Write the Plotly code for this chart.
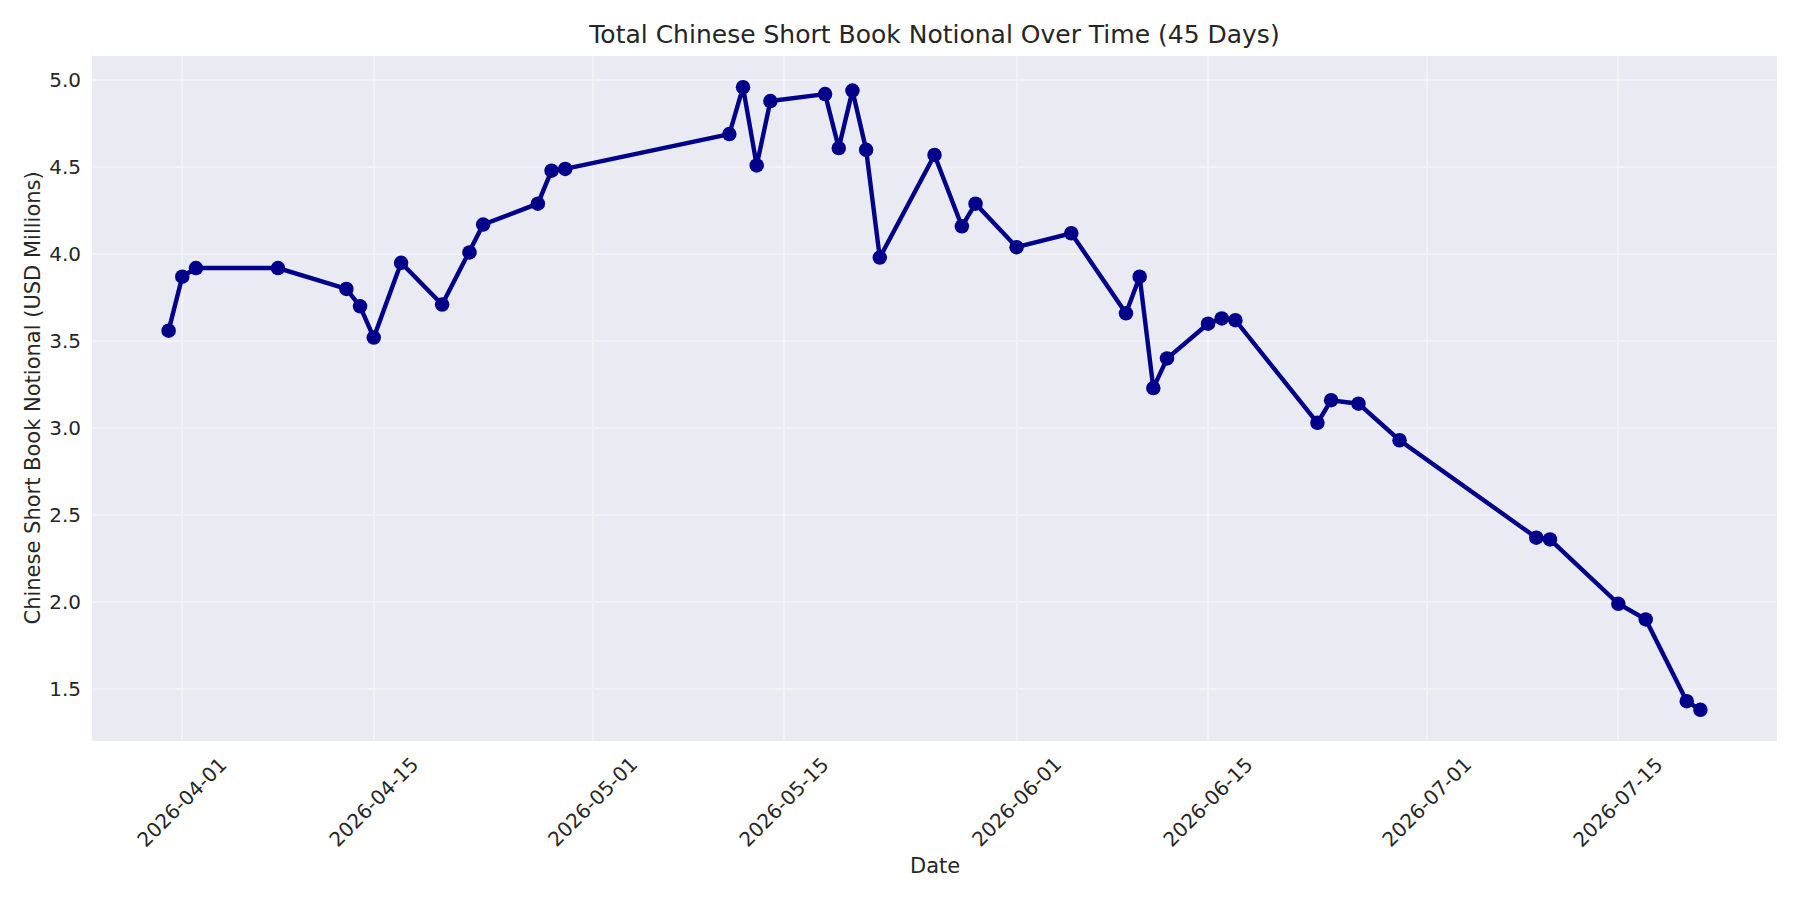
import pandas as pd
import plotly.graph_objects as go

# ---- data ----
dates = ["2026-03-31", "2026-04-01", "2026-04-02", "2026-04-08", "2026-04-13",
         "2026-04-14", "2026-04-15", "2026-04-17", "2026-04-20", "2026-04-22",
         "2026-04-23", "2026-04-27", "2026-04-28", "2026-04-29", "2026-05-11",
         "2026-05-12", "2026-05-13", "2026-05-14", "2026-05-18", "2026-05-19",
         "2026-05-20", "2026-05-21", "2026-05-22", "2026-05-26", "2026-05-28",
         "2026-05-29", "2026-06-01", "2026-06-05", "2026-06-09", "2026-06-10",
         "2026-06-11", "2026-06-12", "2026-06-15", "2026-06-16", "2026-06-17",
         "2026-06-23", "2026-06-24", "2026-06-26", "2026-06-29", "2026-07-09",
         "2026-07-10", "2026-07-15", "2026-07-17", "2026-07-20", "2026-07-21"]
notional = [3.56, 3.87, 3.92, 3.92, 3.80, 3.70, 3.52, 3.95, 3.71, 4.01,
            4.17, 4.29, 4.48, 4.49, 4.69, 4.96, 4.51, 4.88, 4.92, 4.61,
            4.94, 4.60, 3.98, 4.57, 4.16, 4.29, 4.04, 4.12, 3.66, 3.87,
            3.23, 3.40, 3.60, 3.63, 3.62, 3.03, 3.16, 3.14, 2.93, 2.37,
            2.36, 1.99, 1.90, 1.43, 1.38]
x_ticks = ["2026-04-01", "2026-04-15", "2026-05-01", "2026-05-15",
           "2026-06-01", "2026-06-15", "2026-07-01", "2026-07-15"]
y_ticks = [1.5, 2.0, 2.5, 3.0, 3.5, 4.0, 4.5, 5.0]

title = "Total Chinese Short Book Notional Over Time (45 Days)"
x_label = "Date"
y_label = "Chinese Short Book Notional (USD Millions)"

# ---- styling ----
FONT = "DejaVu Sans"
TXT = "#262626"
LINE = "#00008B"
GRID = "#F1F1F6"

d = pd.to_datetime(dates)
span = d.max() - d.min()
x_range = [d.min() - span * 0.05, d.max() + span * 0.05]
ymin, ymax = min(notional), max(notional)
ypad = (ymax - ymin) * 0.05
y_range = [ymin - ypad, ymax + ypad]

fig = go.Figure()
fig.add_trace(go.Scatter(
    x=d, y=notional, mode="lines+markers",
    line=dict(color=LINE, width=4.4),
    marker=dict(color=LINE, size=14.5),
    showlegend=False, hoverinfo="x+y",
))

annotations = []
for t in x_ticks:
    annotations.append(dict(
        x=t, y=0, xref="x", yref="paper", text=t, showarrow=False,
        textangle=-45, xanchor="center", yanchor="top", yshift=-9,
        font=dict(family=FONT, size=20, color=TXT),
    ))
annotations.append(dict(
    x=0.5, y=0, xref="paper", yref="paper", text=x_label, showarrow=False,
    xanchor="center", yanchor="middle", yshift=-125,
    font=dict(family=FONT, size=21, color=TXT),
))
annotations.append(dict(
    x=0, y=0.5, xref="paper", yref="paper", text=y_label, showarrow=False,
    textangle=-90, xanchor="center", yanchor="middle", xshift=-60,
    font=dict(family=FONT, size=21, color=TXT),
))

fig.update_layout(
    width=1800, height=900,
    margin=dict(l=84, r=31, t=48, b=167, autoexpand=False),
    paper_bgcolor="white", plot_bgcolor="#EAEAF2",
    font=dict(family=FONT, color=TXT),
    title=dict(text=title, x=0.5, xref="paper", xanchor="center",
               y=1 - 26 / 900, yref="container", yanchor="middle",
               font=dict(family=FONT, size=25, color=TXT)),
    annotations=annotations,
    xaxis=dict(type="date", range=x_range, tickvals=x_ticks,
               showticklabels=False, ticks="", showgrid=True,
               gridcolor=GRID, gridwidth=1.6, zeroline=False,
               showline=False, fixedrange=True),
    yaxis=dict(range=y_range, tickvals=y_ticks, tickformat=".1f", ticks="",
               ticklabelstandoff=10,
               tickfont=dict(family=FONT, size=20, color=TXT),
               showgrid=True, gridcolor=GRID, gridwidth=1.6,
               zeroline=False, showline=False, fixedrange=True),
)

fig.write_html("out.html")
